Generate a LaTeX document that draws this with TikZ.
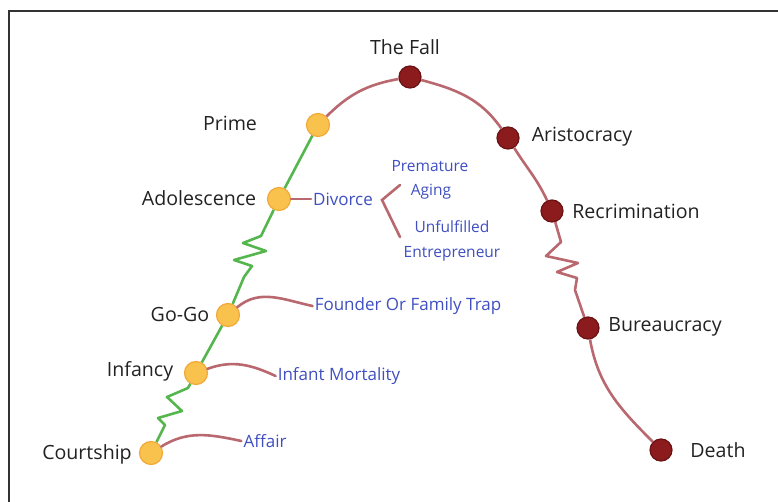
\documentclass[tikz,border=0pt]{standalone}
\usepackage{fontspec}
\setmainfont{Open Sans}
\usepackage{xcolor}
\usepackage{tikz}
\usetikzlibrary{positioning}

\definecolor{younggold}{HTML}{F9C24C}
\definecolor{youngedge}{HTML}{F2A93B}
\definecolor{oldred}{HTML}{8C1B1D}
\definecolor{oldedge}{HTML}{6A1214}
\definecolor{growgreen}{HTML}{55B64E}
\definecolor{declinerose}{HTML}{B8686E}
\definecolor{trapblue}{HTML}{3F4FC0}
\definecolor{stagetext}{HTML}{222222}
\definecolor{framegray}{HTML}{333333}

\begin{document}
\begin{tikzpicture}[x=1pt, y=1pt,
    young/.style={draw=youngedge, fill=younggold, circle, line width=1.2pt, minimum size=23pt, inner sep=0pt},
    old/.style={draw=oldedge, fill=oldred, circle, line width=1.2pt, minimum size=22pt, inner sep=0pt},
    stage/.style={font=\fontsize{19.6}{22}\selectfont, text=stagetext, inner sep=1pt},
    trap/.style={font=\fontsize{17}{19}\selectfont, text=trapblue, inner sep=2pt},
    trapsmall/.style={font=\fontsize{15.5}{17}\selectfont, text=trapblue, inner sep=1pt},
    growline/.style={line width=2.6pt, draw=growgreen, line join=round},
    declineline/.style={line width=2.6pt, draw=declinerose, line join=round},
    traplink/.style={line width=2.6pt, draw=declinerose, line cap=round},
]
\useasboundingbox (0,0) rectangle (778,-502);
\draw[framegray, line width=1.6pt] (9,-502) -- (9,-11) -- (778,-11);

% stages of the life cycle
\node[young] (court) at (151,-453) {};
\node[young] (infa) at (196,-373) {};
\node[young] (gogo) at (228,-315) {};
\node[young] (adol) at (279,-199) {};
\node[young] (prime) at (318,-125) {};
\node[old] (fall) at (410,-77) {};
\node[old] (aris) at (508,-138) {};
\node[old] (recr) at (552,-211) {};
\node[old] (bure) at (588,-328) {};
\node[old] (death) at (661,-450) {};

\node[stage] (courtlbl) at (87,-454) {Courtship};
\node[stage] (infalbl) at (140,-371) {Infancy};
\node[stage] (gogolbl) at (180,-314) {Go-Go};
\node[stage] (adollbl) at (199,-198) {Adolescence};
\node[stage] (primelbl) at (230,-123) {Prime};
\node[stage] (falllbl) at (405,-47) {The Fall};
\node[stage] (arislbl) at (582,-137) {Aristocracy};
\node[stage] (recrlbl) at (636,-211) {Recrimination};
\node[stage] (burelbl) at (665,-327) {Bureaucracy};
\node[stage] (deathlbl) at (718,-450) {Death};

% traps
\node[trap] (divorce) at (343,-199) {Divorce};
\node[trapsmall] (prem) at (430,-166) {Premature};
\node[trapsmall] (aging) at (431,-192) {Aging};
\node[trapsmall] (unful) at (452,-227) {Unfulfilled};
\node[trapsmall] (entre) at (452,-254) {Entrepreneur};
\node[trap] (founder) at (408,-306) {Founder Or Family Trap};
\node[trap] (mortal) at (339,-376) {Infant Mortality};
\node[trap] (affair) at (265,-441) {Affair};

\coordinate (bktop) at (400,-185);
\coordinate (bkmid) at (382,-200);
\coordinate (bkbot) at (400,-237);

% growth
\draw[growline] (infa) -- (188,-388) -- (167,-397) -- (182,-411) -- (158,-418)
    -- (165,-425) -- (160,-435) -- (court);
\draw[growline] (infa) -- (gogo);
\draw[growline] (adol) -- (261,-236) -- (243,-243) -- (266,-251) -- (234,-260)
    -- (252,-266) -- (244,-277) -- (gogo);
\draw[growline] (adol) -- (prime);

% decline
\draw[declineline] (prime) to[out=45, in=190] (fall);
\draw[declineline] (fall) to[out=-15, in=125] (aris);
\draw[declineline] (aris) to[out=-58, in=115] (recr);
\draw[declineline] (recr) -- (561,-242) -- (546,-256) -- (578,-263) -- (557,-272)
    -- (577,-278) -- (575,-290) -- (bure);
\draw[declineline] (bure) to[out=-80, in=135] (death);

% trap links
\draw[traplink] (adol) -- (divorce);
\draw[traplink] (bktop) -- (bkmid) -- (bkbot);
\draw[traplink] (gogo) to[out=40, in=168] (founder.west);
\draw[traplink] (infa) to[out=20, in=155] (mortal.west);
\draw[traplink] (court) to[out=32, in=168] (affair.west);
\end{tikzpicture}
\end{document}
